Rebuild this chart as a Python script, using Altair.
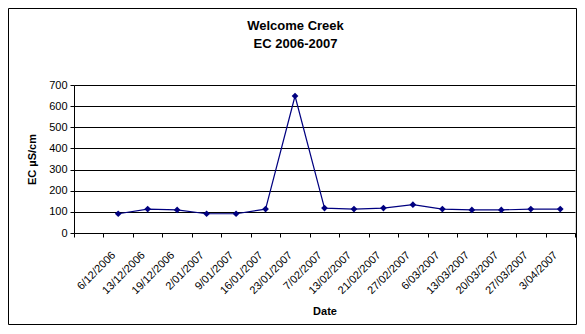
import altair as alt
import pandas as pd

dates = ["6/12/2006", "13/12/2006", "19/12/2006", "2/01/2007", "9/01/2007",
         "16/01/2007", "23/01/2007", "7/02/2007", "13/02/2007", "21/02/2007",
         "27/02/2007", "6/03/2007", "13/03/2007", "20/03/2007", "27/03/2007",
         "3/04/2007"]
ec = [91, 113, 109, 91, 91, 113, 648, 118, 113, 118, 134, 113, 109, 109, 113, 113]
y_ticks = [0, 100, 200, 300, 400, 500, 600, 700]
domain = [" "] + dates  # first category slot is empty in the original

df = pd.DataFrame({"Date": dates, "EC": ec})

FONT = "Liberation Sans"
W, H = 501, 148
PL, PT, PR, PB = 66, 77, 2, 92

x_enc = alt.X(
    "Date:N",
    sort=domain,
    bandPosition=0.5,
    scale=alt.Scale(domain=domain, type="band", paddingInner=0, paddingOuter=0),
    axis=alt.Axis(
        title="Date", tickBand="extent", labelAngle=-45, labelFontSize=11,
        labelFont=FONT, labelColor="black", tickColor="black", tickSize=4,
        domainColor="black", labelPadding=12, labelOffset=-9, titleFont=FONT,
        titleFontSize=11, titleFontWeight="bold", titleColor="black",
        titlePadding=10, grid=False,
    ),
)
y_enc = alt.Y(
    "EC:Q",
    scale=alt.Scale(domain=[0, 700], nice=False),
    axis=alt.Axis(
        title="EC µS/cm", values=y_ticks, labelFontSize=11, labelFont=FONT,
        labelColor="black", tickColor="black", tickSize=4, domainColor="black",
        labelPadding=3, gridColor="black", gridWidth=1, grid=True,
        titleFont=FONT, titleFontSize=11, titleFontWeight="bold",
        titleColor="black", titlePadding=11,
    ),
)

base = alt.Chart(df)
line = base.mark_line(color="#000080", strokeWidth=1.2).encode(x=x_enc, y=y_enc)
pts = base.mark_point(shape="diamond", filled=True, color="#000080", size=45,
                      opacity=1).encode(x=x_enc, y=y_enc)

frame = alt.Chart(alt.Data(values=[{}])).mark_rect(
    fillOpacity=0, stroke="black", strokeWidth=1
).encode(
    x=alt.value(-PL + 0.5), x2=alt.value(W + PR - 0.5),
    y=alt.value(-PT + 0.5), y2=alt.value(H + PB - 0.5),
)

chart = alt.layer(line, pts, frame).properties(
    width=W, height=H,
    autosize=alt.AutoSizeParams(type="none"),
    padding={"left": PL, "top": PT, "right": PR, "bottom": PB},
    title=alt.TitleParams(
        text=["Welcome Creek", "EC 2006-2007"], font=FONT, fontSize=13,
        fontWeight="bold", color="black", anchor="middle", lineHeight=18,
        dx=-29, offset=0, dy=43,
    ),
).configure_view(
    fill="#C0C0C0", stroke="#808080", strokeWidth=1
).configure(background="white")

chart.save("out.html", embed_options={"renderer": "svg", "actions": False})
